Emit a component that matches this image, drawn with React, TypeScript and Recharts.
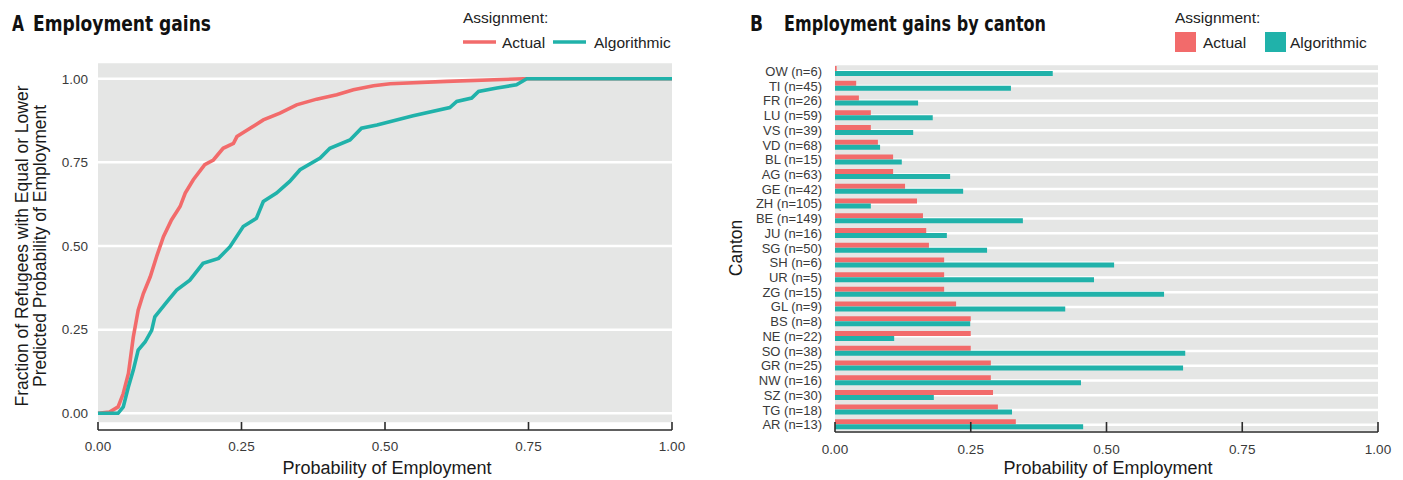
import React from 'react';
import {
  LineChart, Line, BarChart, Bar, XAxis, YAxis, CartesianGrid, ReferenceArea
} from 'recharts';

// panel A: ECDF of predicted employment probability
const probActual = [0, 0.02, 0.035, 0.044, 0.053, 0.0615, 0.07, 0.079, 0.091, 0.102, 0.114, 0.128, 0.143, 0.152, 0.166, 0.186, 0.201, 0.218, 0.236, 0.242, 0.265, 0.288, 0.317, 0.346, 0.381, 0.416, 0.445, 0.48, 0.509, 0.607, 0.741, 1.0];
const fracActual = [0, 0.004, 0.019, 0.059, 0.119, 0.228, 0.308, 0.358, 0.408, 0.468, 0.528, 0.578, 0.618, 0.658, 0.698, 0.743, 0.757, 0.792, 0.807, 0.827, 0.852, 0.877, 0.897, 0.922, 0.939, 0.952, 0.967, 0.979, 0.985, 0.992, 1.0, 1.0];

const probAlgo = [0, 0.035, 0.044, 0.053, 0.0615, 0.07, 0.082, 0.0935, 0.099, 0.12, 0.137, 0.16, 0.183, 0.21, 0.23, 0.253, 0.276, 0.288, 0.311, 0.334, 0.352, 0.387, 0.404, 0.439, 0.459, 0.486, 0.549, 0.613, 0.625, 0.651, 0.663, 0.695, 0.729, 0.747, 1.0];
const fracAlgo = [0, 0, 0.019, 0.079, 0.129, 0.189, 0.213, 0.248, 0.288, 0.333, 0.368, 0.398, 0.448, 0.463, 0.498, 0.558, 0.583, 0.633, 0.658, 0.693, 0.728, 0.763, 0.792, 0.817, 0.852, 0.862, 0.889, 0.914, 0.932, 0.942, 0.962, 0.972, 0.982, 1.0, 1.0];

// panel B: mean probability by canton
const cantons = ['OW (n=6)', 'TI (n=45)', 'FR (n=26)', 'LU (n=59)', 'VS (n=39)', 'VD (n=68)', 'BL (n=15)', 'AG (n=63)', 'GE (n=42)', 'ZH (n=105)', 'BE (n=149)', 'JU (n=16)', 'SG (n=50)', 'SH (n=6)', 'UR (n=5)', 'ZG (n=15)', 'GL (n=9)', 'BS (n=8)', 'NE (n=22)', 'SO (n=38)', 'GR (n=25)', 'NW (n=16)', 'SZ (n=30)', 'TG (n=18)', 'AR (n=13)'];
const actualGain = [0.003, 0.039, 0.044, 0.066, 0.066, 0.079, 0.107, 0.107, 0.129, 0.151, 0.162, 0.168, 0.173, 0.201, 0.201, 0.201, 0.223, 0.25, 0.25, 0.25, 0.287, 0.287, 0.291, 0.3, 0.333];
const algoGain = [0.401, 0.324, 0.153, 0.18, 0.144, 0.083, 0.123, 0.212, 0.236, 0.066, 0.346, 0.206, 0.28, 0.514, 0.477, 0.606, 0.424, 0.249, 0.109, 0.645, 0.641, 0.453, 0.182, 0.326, 0.457];

const probTicks = [0, 0.25, 0.5, 0.75, 1];

const RED = '#F26B6B';
const TEAL = '#20B2AA';
const PANEL = '#E5E6E5';
const FONT = '"Liberation Sans", Arial, Helvetica, sans-serif';
const TITLE_FONT = '"Liberation Sans Narrow", "DejaVu Sans Condensed", "Arial Narrow", sans-serif';

const actualData = probActual.map((x, i) => ({ x, y: fracActual[i] }));
const algoData = probAlgo.map((x, i) => ({ x, y: fracAlgo[i] }));
const cantonData = cantons.map((canton, i) => ({ canton, actual: actualGain[i], algorithmic: algoGain[i] }));

// ticks point up from the axis line, label below
function UpTick(props: any) {
  const { x, y, payload, gap, len } = props;
  const axisY = y - gap;
  return (
    <g>
      <line x1={x} x2={x} y1={axisY - len} y2={axisY} stroke="#2b2b2b" strokeWidth={1.6} />
      <text x={x} y={y} dy="0.71em" textAnchor="middle" fontSize={13.5} fill="#3a3a3a" fontFamily={FONT}>
        {Number(payload.value).toFixed(2)}
      </text>
    </g>
  );
}

const yTickStyle = { fill: '#3a3a3a', fontSize: 13.5, fontFamily: FONT };

function Title({ x, text, width }: { x: number; text: string; width: number }) {
  return (
    <text x={x} y={31} fontFamily={TITLE_FONT} fontWeight="bold" fontSize={22} fill="#111"
      textLength={width} lengthAdjust="spacingAndGlyphs">{text}</text>
  );
}

export default function App() {
  return (
    <div style={{ position: 'absolute', left: 0, top: 0, width: 1403, height: 480, background: '#fff', fontFamily: FONT }}>
      <div style={{ position: 'absolute', left: 0, top: 0 }}>
        <LineChart width={700} height={480} margin={{ top: 62, right: 28, bottom: 20, left: 38 }}>
          <CartesianGrid vertical={false} stroke="#fff" strokeWidth={2.5} fill={PANEL} fillOpacity={1} />
          <ReferenceArea x1={0} x2={1} y1={-0.049} y2={-0.027} fill="#fff" fillOpacity={1} stroke="none" />
          <XAxis
            type="number"
            dataKey="x"
            domain={[0, 1]}
            ticks={probTicks}
            height={30}
            tickSize={0}
            tickMargin={11}
            tickLine={false}
            axisLine={{ stroke: '#2b2b2b', strokeWidth: 1.6 }}
            tick={(p: any) => <UpTick {...p} gap={11} len={8} />}
            interval={0}
          />
          <YAxis
            type="number"
            domain={[-0.05, 1.05]}
            ticks={probTicks}
            width={60}
            tickSize={0}
            tickMargin={10}
            tickLine={false}
            axisLine={false}
            tick={yTickStyle}
            tickFormatter={(v: number) => v.toFixed(2)}
            interval={0}
          />
          <Line data={actualData} dataKey="y" type="linear" stroke={RED} strokeWidth={3.6} dot={false} activeDot={false} isAnimationActive={false} />
          <Line data={algoData} dataKey="y" type="linear" stroke={TEAL} strokeWidth={3.6} dot={false} activeDot={false} isAnimationActive={false} />
        </LineChart>
      </div>

      <div style={{ position: 'absolute', left: 700, top: 0 }}>
        <BarChart
          width={703}
          height={480}
          data={cantonData}
          layout="vertical"
          barGap={0}
          barCategoryGap="14%"
          margin={{ top: 64, right: 25, bottom: 18, left: 15 }}
        >
          <CartesianGrid vertical={false} stroke="#fff" strokeWidth={2.5} fill={PANEL} fillOpacity={1} />
          <XAxis
            type="number"
            domain={[0, 1]}
            ticks={probTicks}
            height={30}
            tickSize={0}
            tickMargin={12}
            tickLine={false}
            axisLine={{ stroke: '#2b2b2b', strokeWidth: 1.6 }}
            tick={(p: any) => <UpTick {...p} gap={12} len={10} />}
            interval={0}
          />
          <YAxis
            type="category"
            dataKey="canton"
            width={120}
            tickSize={0}
            tickMargin={13}
            tickLine={false}
            axisLine={false}
            tick={{ ...yTickStyle, fontSize: 13 }}
            interval={0}
          />
          <Bar dataKey="actual" fill={RED} isAnimationActive={false} />
          <Bar dataKey="algorithmic" fill={TEAL} isAnimationActive={false} />
        </BarChart>
      </div>

      <svg width={1403} height={480} style={{ position: 'absolute', left: 0, top: 0, pointerEvents: 'none' }}>
        {/* titles */}
        <Title x={12} text="A" width={12} />
        <Title x={33} text="Employment gains" width={178} />
        <Title x={750} text="B" width={13} />
        <Title x={784} text="Employment gains by canton" width={262} />

        {/* legend A */}
        <text x={463} y={23} fontSize={15.5} fontFamily={FONT} fill="#222">Assignment:</text>
        <line x1={463} x2={496} y1={42} y2={42} stroke={RED} strokeWidth={3.6} />
        <text x={502} y={48} fontSize={15.5} fontFamily={FONT} fill="#222">Actual</text>
        <line x1={553} x2={586} y1={42} y2={42} stroke={TEAL} strokeWidth={3.6} />
        <text x={594} y={48} fontSize={15.5} fontFamily={FONT} fill="#222">Algorithmic</text>

        {/* legend B */}
        <text x={1175} y={23} fontSize={15.5} fontFamily={FONT} fill="#222">Assignment:</text>
        <rect x={1175} y={32} width={21} height={20} fill={RED} />
        <text x={1203} y={48} fontSize={15.5} fontFamily={FONT} fill="#222">Actual</text>
        <rect x={1265} y={32} width={21} height={20} fill={TEAL} />
        <text x={1290} y={48} fontSize={15.5} fontFamily={FONT} fill="#222">Algorithmic</text>

        {/* axis titles */}
        <text x={387} y={474} textAnchor="middle" fontSize={18} fontFamily={FONT} fill="#1a1a1a">Probability of Employment</text>
        <text x={1108} y={474} textAnchor="middle" fontSize={18} fontFamily={FONT} fill="#1a1a1a">Probability of Employment</text>
        <text transform="translate(28,246) rotate(-90)" textAnchor="middle" fontSize={17.5} fontFamily={FONT} fill="#1a1a1a">Fraction of Refugees with Equal or Lower</text>
        <text transform="translate(46,246) rotate(-90)" textAnchor="middle" fontSize={17.5} fontFamily={FONT} fill="#1a1a1a">Predicted Probability of Employment</text>
        <text transform="translate(742,248) rotate(-90)" textAnchor="middle" fontSize={17.5} fontFamily={FONT} fill="#1a1a1a">Canton</text>
      </svg>
    </div>
  );
}
